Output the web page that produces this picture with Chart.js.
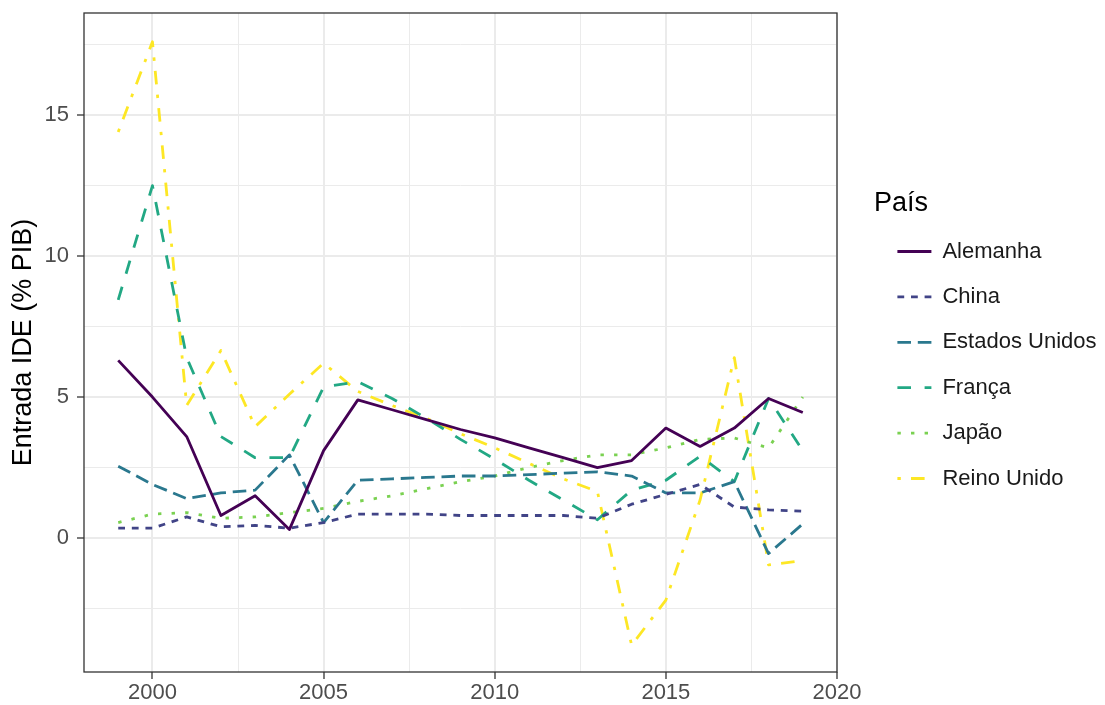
<!DOCTYPE html>
<html>
<head>
<meta charset="utf-8">
<script src="https://cdn.jsdelivr.net/npm/chart.js@4.4.1/dist/chart.umd.min.js"></script>
<style>
  html, body { margin: 0; padding: 0; background: #fff; }
</style>
</head>
<body>
<canvas id="chart" width="1105" height="705"></canvas>
<script>
// Entrada de IDE (% do PIB), 1999-2019
const years = [1999, 2000, 2001, 2002, 2003, 2004, 2005, 2006, 2007, 2008, 2009,
               2010, 2011, 2012, 2013, 2014, 2015, 2016, 2017, 2018, 2019];

const alemanha      = [6.3, 5.0, 3.6, 0.8, 1.5, 0.3, 3.1, 4.9, 4.55, 4.2, 3.85,
                       3.55, 3.2, 2.85, 2.5, 2.75, 3.9, 3.25, 3.9, 4.95, 4.45];
const china         = [0.35, 0.35, 0.75, 0.4, 0.45, 0.35, 0.55, 0.85, 0.85, 0.85, 0.8,
                       0.8, 0.8, 0.8, 0.7, 1.2, 1.55, 1.9, 1.1, 1.0, 0.95];
const estadosUnidos = [2.55, 1.9, 1.4, 1.6, 1.7, 2.95, 0.55, 2.05, 2.1, 2.15, 2.2,
                       2.2, 2.25, 2.3, 2.35, 2.2, 1.6, 1.6, 2.0, -0.55, 0.5];
const franca        = [8.45, 12.5, 6.4, 3.6, 2.85, 2.85, 5.35, 5.55, 4.95, 4.25, 3.5,
                       2.8, 2.05, 1.35, 0.65, 1.7, 2.05, 2.9, 2.0, 4.95, 3.1];
const japao         = [0.55, 0.85, 0.9, 0.7, 0.75, 0.9, 1.05, 1.3, 1.5, 1.75, 2.0,
                       2.2, 2.5, 2.75, 2.95, 2.95, 3.2, 3.5, 3.55, 3.2, 5.0];
const reinoUnido    = [14.4, 17.6, 4.7, 6.65, 3.95, 5.1, 6.2, 5.2, 4.7, 4.25, 3.7,
                       3.2, 2.65, 2.1, 1.65, -3.8, -2.2, 1.35, 6.4, -0.95, -0.8];

const xMajor = [2000, 2005, 2010, 2015, 2020];
const xMinor = [2002.5, 2007.5, 2012.5, 2017.5];
const yMajor = [0, 5, 10, 15];
const yMinor = [-2.5, 2.5, 7.5, 12.5, 17.5];

const FONT = "'Liberation Sans', Arial, Helvetica, sans-serif";
const LW = 2.8;
const U = 3.4; // dash unit

const toPoints = vals => years.map((yr, i) => ({ x: yr, y: vals[i] }));

function serie(label, vals, color, dash) {
  return {
    label: label,
    data: toPoints(vals),
    borderColor: color,
    backgroundColor: color,
    borderWidth: LW,
    borderDash: dash,
    borderCapStyle: 'butt',
    borderJoinStyle: 'round',
    pointRadius: 0,
    pointHoverRadius: 0,
    tension: 0,
    fill: false
  };
}

const dataChart = {
  datasets: [
    serie('Alemanha', alemanha, '#440154', []),
    serie('China', china, '#414487', [2 * U, 2 * U]),
    serie('Estados Unidos', estadosUnidos, '#2A788E', [4 * U, 2 * U]),
    serie('França', franca, '#22A884', [4 * U, 4 * U]),
    serie('Japão', japao, '#7AD151', [1 * U, 3 * U]),
    serie('Reino Unido', reinoUnido, '#FDE725', [1 * U, 3 * U, 4 * U, 3 * U])
  ]
};

const isMajor = (list, v) => list.some(m => Math.abs(m - v) < 1e-6);

// panel border like theme_bw
const panelBorder = {
  id: 'panelBorder',
  afterDatasetsDraw(chart) {
    const { ctx, chartArea: a } = chart;
    ctx.save();
    ctx.strokeStyle = '#333333';
    ctx.lineWidth = 1.3;
    ctx.strokeRect(a.left, a.top, a.right - a.left, a.bottom - a.top);
    ctx.restore();
  }
};

// keep the legend box a fixed width and push it away from the panel
const legendSpot = {
  id: 'legendSpot',
  beforeLayout(chart) {
    const lg = chart.legend;
    if (lg && !lg._spotFit) {
      const fit = lg.fit;
      lg.fit = function () { fit.call(this); this.width = 268; };
      lg._spotFit = true;
    }
  },
  afterLayout(chart) {
    chart.legend.left += 37;
    chart.legend.right += 37;
  }
};

// legend keys drawn with each line's own dash and width
const legendKeys = chart =>
  Chart.defaults.plugins.legend.labels.generateLabels(chart).map(item => {
    const ds = chart.data.datasets[item.datasetIndex];
    item.lineDash = ds.borderDash;
    item.lineWidth = ds.borderWidth;
    item.strokeStyle = ds.borderColor;
    item.lineCap = 'butt';
    return item;
  });

const options = {
  responsive: false,
  animation: false,
  devicePixelRatio: 1,
  layout: { padding: { top: 13, left: 0, right: 0, bottom: 0 } },
  plugins: {
    tooltip: { enabled: false },
    legend: {
      display: true,
      position: 'right',
      align: 'center',
      fullSize: false,
      title: {
        display: true,
        position: 'start',
        text: 'País',
        color: '#000000',
        font: { family: FONT, size: 27, lineHeight: 1.0 },
        padding: { top: 18, bottom: 0 }
      },
      labels: {
        usePointStyle: true,
        pointStyle: 'line',
        pointStyleWidth: 34,
        padding: 23.4,
        color: '#1a1a1a',
        font: { family: FONT, size: 22 },
        generateLabels: legendKeys
      }
    }
  },
  scales: {
    x: {
      type: 'linear',
      min: 1998,
      max: 2020,
      afterBuildTicks: s => { s.ticks = xMajor.concat(xMinor).sort((a, b) => a - b).map(v => ({ value: v })); },
      afterFit: s => { s.height = 33; },
      ticks: {
        autoSkip: false,
        maxRotation: 0,
        padding: 1,
        color: '#4D4D4D',
        font: { family: FONT, size: 22 },
        callback: v => isMajor(xMajor, v) ? String(v) : ''
      },
      grid: {
        color: '#EBEBEB',
        lineWidth: c => isMajor(xMajor, c.tick.value) ? 2 : 1,
        tickLength: 7,
        tickColor: c => isMajor(xMajor, c.tick.value) ? '#333333' : 'rgba(0,0,0,0)',
        tickWidth: 1.3
      },
      border: { display: false }
    },
    y: {
      type: 'linear',
      min: -4.75,
      max: 18.62,
      afterBuildTicks: s => { s.ticks = yMinor.concat(yMajor).sort((a, b) => a - b).map(v => ({ value: v })); },
      afterFit: s => { s.width = 84; },
      title: {
        display: true,
        text: 'Entrada IDE (% PIB)',
        color: '#000000',
        font: { family: FONT, size: 27 },
        padding: { top: 7, bottom: 0 }
      },
      ticks: {
        autoSkip: false,
        padding: 8,
        color: '#4D4D4D',
        font: { family: FONT, size: 22, lineHeight: 0.4 },
        callback: v => isMajor(yMajor, v) ? String(v) : ''
      },
      grid: {
        color: '#EBEBEB',
        lineWidth: c => isMajor(yMajor, c.tick.value) ? 2 : 1,
        tickLength: 7,
        tickColor: c => isMajor(yMajor, c.tick.value) ? '#333333' : 'rgba(0,0,0,0)',
        tickWidth: 1.3
      },
      border: { display: false }
    }
  }
};

const ctx = document.getElementById('chart').getContext('2d');
new Chart(ctx, {
  type: 'line',
  data: dataChart,
  options: options,
  plugins: [legendSpot, panelBorder]
});
</script>
</body>
</html>
